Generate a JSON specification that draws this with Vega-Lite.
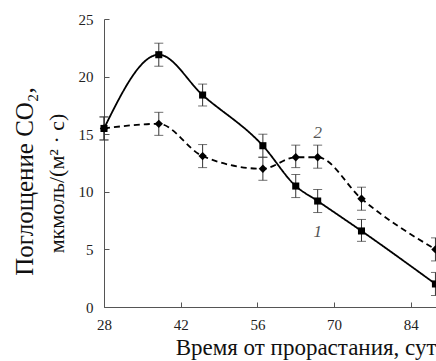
{
  "$schema": "https://vega.github.io/schema/vega-lite/v6.json",
  "width": 332,
  "height": 288,
  "autosize": {"type": "none"},
  "padding": {"left": 104, "top": 19, "right": 0, "bottom": 54},
  "background": "white",
  "config": {"view": {"stroke": null}, "font": "Times New Roman, Liberation Serif, DejaVu Serif, serif"},
  "data": {
    "values": [
      {"t": 28, "v": 15.5, "lo": 14.5, "hi": 16.5, "s": "1"},
      {"t": 38, "v": 21.9, "lo": 20.9, "hi": 22.9, "s": "1"},
      {"t": 46, "v": 18.4, "lo": 17.45, "hi": 19.35, "s": "1"},
      {"t": 57, "v": 14.0, "lo": 13.0, "hi": 15.0, "s": "1"},
      {"t": 63, "v": 10.5, "lo": 9.5, "hi": 11.5, "s": "1"},
      {"t": 67, "v": 9.2, "lo": 8.2, "hi": 10.2, "s": "1"},
      {"t": 75, "v": 6.6, "lo": 5.7, "hi": 7.6, "s": "1"},
      {"t": 88.5, "v": 2.0, "lo": 1.0, "hi": 3.0, "s": "1"},
      {"t": 28, "v": 15.5, "lo": 14.5, "hi": 16.5, "s": "2"},
      {"t": 38, "v": 15.9, "lo": 14.9, "hi": 16.9, "s": "2"},
      {"t": 46, "v": 13.1, "lo": 12.1, "hi": 14.1, "s": "2"},
      {"t": 57, "v": 12.0, "lo": 11.0, "hi": 13.0, "s": "2"},
      {"t": 63, "v": 13.0, "lo": 12.1, "hi": 14.05, "s": "2"},
      {"t": 67, "v": 13.0, "lo": 12.05, "hi": 14.05, "s": "2"},
      {"t": 75, "v": 9.4, "lo": 8.4, "hi": 10.4, "s": "2"},
      {"t": 88.5, "v": 5.0, "lo": 4.0, "hi": 6.0, "s": "2"}
    ]
  },
  "layer": [
    {
      "mark": {"type": "errorbar", "ticks": {"size": 9, "color": "#333"}, "thickness": 1, "color": "#333"},
      "encoding": {
        "x": {
          "field": "t", "type": "quantitative",
          "scale": {"domain": [28, 88.6], "nice": false, "zero": false},
          "axis": {
            "values": [28, 42, 56, 70, 84],
            "grid": false,
            "title": "Время от прорастания, сут",
            "tickSize": -5,
            "labelPadding": 15,
            "labelFlush": false,
            "labelFont": "Times New Roman, Liberation Serif, DejaVu Serif, serif",
            "labelFontSize": 15,
            "labelColor": "#222",
            "domainColor": "#555",
            "tickColor": "#555",
            "titleFont": "Times New Roman, Liberation Serif, DejaVu Serif, serif",
            "titleFontSize": 23,
            "titleFontWeight": "normal",
            "titleColor": "#111",
            "titleAlign": "right",
            "titleAnchor": "end",
            "titleX": 332,
            "titleY": 47,
            "titleBaseline": "alphabetic"
          }
        },
        "y": {
          "field": "lo", "type": "quantitative",
          "scale": {"domain": [0, 25], "nice": false},
          "axis": {
            "orient": "left",
            "values": [0, 5, 10, 15, 20, 25],
            "grid": false,
            "title": "мкмоль/(м² · с)",
            "tickSize": -5,
            "labelPadding": 16,
            "labelFont": "Times New Roman, Liberation Serif, DejaVu Serif, serif",
            "labelFontSize": 15,
            "labelColor": "#222",
            "domainColor": "#555",
            "tickColor": "#555",
            "titleFont": "Times New Roman, Liberation Serif, DejaVu Serif, serif",
            "titleFontSize": 22,
            "titleFontWeight": "normal",
            "titleColor": "#111",
            "titleAngle": -90,
            "titleAlign": "center",
            "titleBaseline": "middle",
            "titleX": -48,
            "titleY": 164
          }
        },
        "y2": {"field": "hi"}
      }
    },
    {
      "mark": {"type": "line", "interpolate": "monotone", "color": "black", "strokeWidth": 1.8},
      "encoding": {
        "x": {"field": "t", "type": "quantitative"},
        "y": {
          "field": "v", "type": "quantitative",
          "scale": {"domain": [0, 25], "nice": false},
          "axis": {
            "orient": "left",
            "labels": false,
            "ticks": false,
            "domain": false,
            "grid": false,
            "title": "Поглощение CO₂,",
            "titleFont": "Times New Roman, Liberation Serif, DejaVu Serif, serif",
            "titleFontSize": 25,
            "titleFontWeight": "normal",
            "titleColor": "#111",
            "titleAngle": -90,
            "titleAlign": "center",
            "titleBaseline": "middle",
            "titleX": -80,
            "titleY": 162
          }
        },
        "strokeDash": {
          "field": "s", "type": "nominal",
          "scale": {"domain": ["1", "2"], "range": [[1, 0], [6, 4]]},
          "legend": null
        }
      }
    },
    {
      "mark": {"type": "point", "filled": true, "color": "black", "opacity": 1},
      "encoding": {
        "x": {"field": "t", "type": "quantitative"},
        "y": {"field": "v", "type": "quantitative", "axis": null},
        "shape": {
          "field": "s", "type": "nominal",
          "scale": {"domain": ["1", "2"], "range": ["square", "diamond"]},
          "legend": null
        },
        "size": {
          "field": "s", "type": "nominal",
          "scale": {"domain": ["1", "2"], "range": [50, 70]},
          "legend": null
        }
      }
    },
    {
      "data": {"values": [{"t": 67, "v": 15.1, "lab": "2"}, {"t": 67, "v": 6.55, "lab": "1"}]},
      "mark": {"type": "text", "font": "Times New Roman, Liberation Serif, DejaVu Serif, serif", "fontStyle": "italic", "fontSize": 17, "color": "#555", "baseline": "middle", "align": "center"},
      "encoding": {
        "x": {"field": "t", "type": "quantitative"},
        "y": {"field": "v", "type": "quantitative", "axis": null},
        "text": {"field": "lab"}
      }
    }
  ],
  "resolve": {"axis": {"y": "independent"}}
}
